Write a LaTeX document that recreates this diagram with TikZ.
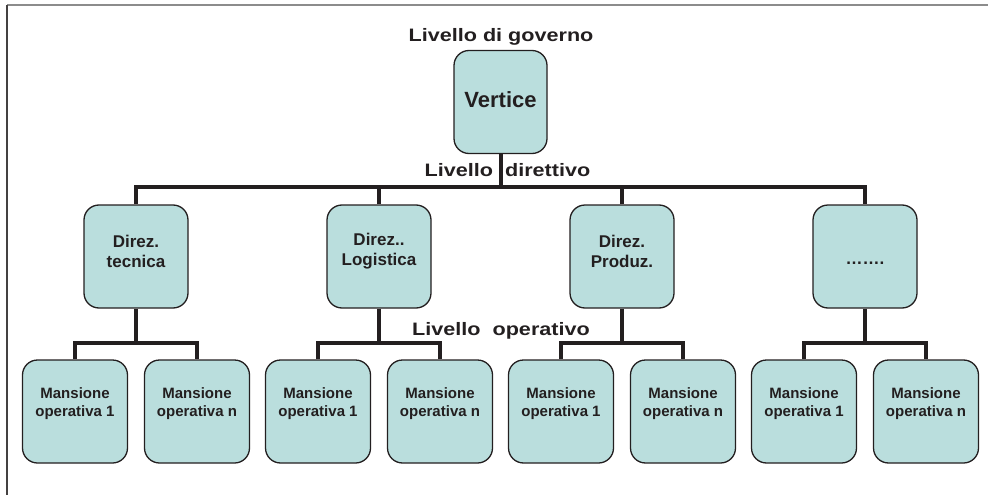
\documentclass[tikz,border=0pt]{standalone}
\usepackage{fontspec}
\setmainfont{Liberation Sans}
\newfontfamily\lvlfont{Liberation Sans}[FakeStretch=1.2]
\definecolor{boxfill}{HTML}{BADEDD}
\definecolor{ink}{HTML}{231F20}
\begin{document}
\begin{tikzpicture}[x=1pt,y=-1pt,
  box/.style={draw=ink, line width=1.3pt, fill=boxfill, rounded corners=15pt, inner sep=0pt, minimum height=103pt},
  dirbox/.style={box, minimum width=104pt},
  opbox/.style={box, minimum width=105pt},
  conn/.style={draw=ink, line width=4pt, line join=miter},
  vtxt/.style={font=\bfseries\fontsize{22}{24}\selectfont, text=ink, yshift=2.5pt},
  dirtxt/.style={font=\bfseries\fontsize{17}{20}\selectfont, text=ink, align=center, yshift=5pt},
  dottxt/.style={font=\bfseries\fontsize{17}{20}\selectfont, text=ink, yshift=-6.5pt},
  optxt/.style={font=\bfseries\fontsize{15}{18}\selectfont, text=ink, align=center, yshift=8pt},
  lvl/.style={font=\lvlfont\bfseries\fontsize{18}{20}\selectfont, text=ink, anchor=base}]
\useasboundingbox (0,0) rectangle (988,495);
% frame
\draw[color=gray!90, line width=2pt] (7,5) -- (988,5);
\draw[color=ink!85, line width=2pt] (7,5) -- (7,495);

% top
\node[box, minimum width=93pt, label={[vtxt]center:Vertice}] (v) at (500.5,102) {};

% directions
\node[dirbox, label={[dirtxt]center:Direz.\\tecnica}] (d1) at (136,256.5) {};
\node[dirbox, label={[dirtxt]center:Direz..\\Logistica}] (d2) at (379,256.5) {};
\node[dirbox, label={[dirtxt]center:Direz.\\Produz.}] (d3) at (622,256.5) {};
\node[dirbox, label={[dottxt]center:…….}] (d4) at (865,256.5) {};

% operative tasks
\node[opbox, label={[optxt]center:Mansione\\operativa 1}] (m11) at (75,411.5) {};
\node[opbox, label={[optxt]center:Mansione\\operativa n}] (m12) at (197,411.5) {};
\node[opbox, label={[optxt]center:Mansione\\operativa 1}] (m21) at (318,411.5) {};
\node[opbox, label={[optxt]center:Mansione\\operativa n}] (m22) at (440,411.5) {};
\node[opbox, label={[optxt]center:Mansione\\operativa 1}] (m31) at (561,411.5) {};
\node[opbox, label={[optxt]center:Mansione\\operativa n}] (m32) at (683,411.5) {};
\node[opbox, label={[optxt]center:Mansione\\operativa 1}] (m41) at (804,411.5) {};
\node[opbox, label={[optxt]center:Mansione\\operativa n}] (m42) at (926,411.5) {};

% connectors
\coordinate (bar) at (500.5,187);
\coordinate (sb) at (0,343);
\draw[conn] (v.south) -- (bar);
\draw[conn] (d1.north) |- (bar) -| (d4.north);
\draw[conn] (d2.north) -- (d2.north |- bar);
\draw[conn] (d3.north) -- (d3.north |- bar);
\draw[conn] (d1.south) -- (d1.south |- sb);
\draw[conn] (m11.north) |- (d1.south |- sb) -| (m12.north);
\draw[conn] (d2.south) -- (d2.south |- sb);
\draw[conn] (m21.north) |- (d2.south |- sb) -| (m22.north);
\draw[conn] (d3.south) -- (d3.south |- sb);
\draw[conn] (m31.north) |- (d3.south |- sb) -| (m32.north);
\draw[conn] (d4.south) -- (d4.south |- sb);
\draw[conn] (m41.north) |- (d4.south |- sb) -| (m42.north);

% level labels
\node[lvl] (lg) at (501,42) {Livello di governo};
\node[lvl] (ld) at (507.5,176.7) {Livello\ \ direttivo};
\node[lvl] (lo) at (501,335) {Livello\ \ operativo};
\end{tikzpicture}
\end{document}
